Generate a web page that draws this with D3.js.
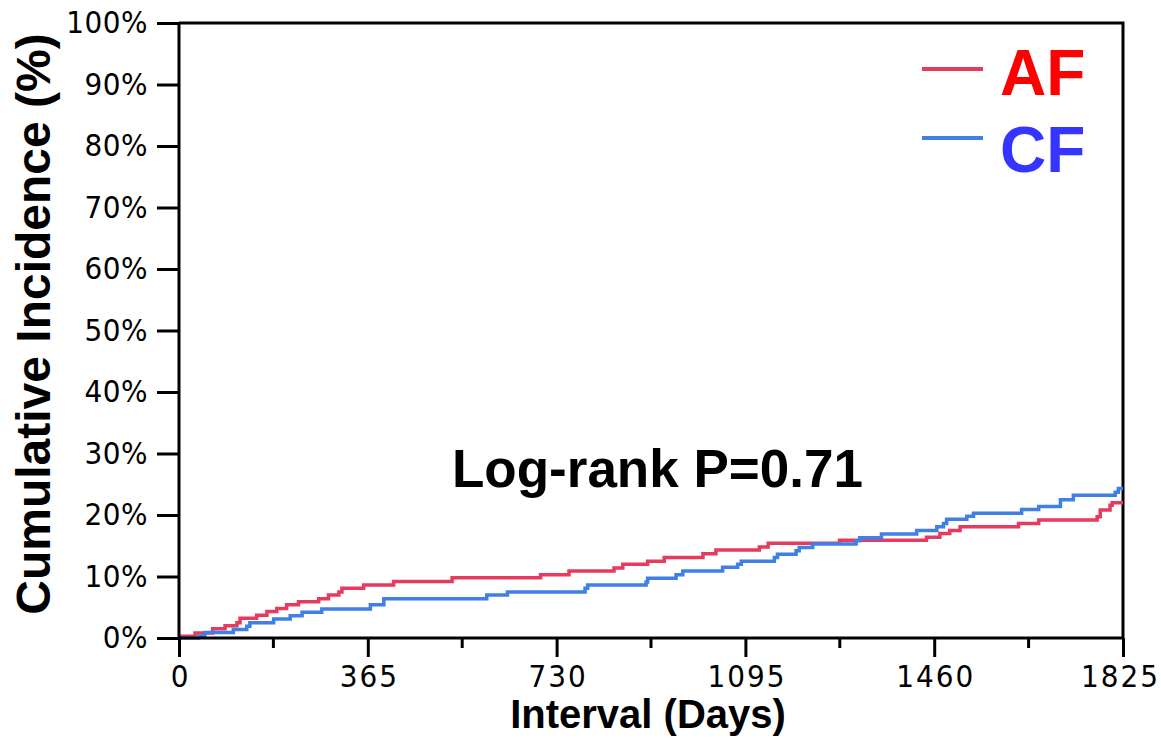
<!DOCTYPE html>
<html>
<head>
<meta charset="utf-8">
<script src="https://cdn.jsdelivr.net/npm/d3@7"></script>
<style>
    body { margin: 0; background: #fff; }
    .tick-label { font-family: "Liberation Sans Narrow", "DejaVu Sans Condensed", sans-serif; font-size: 31px; fill: #000; }
    .title { font-family: "Liberation Sans", Arial, sans-serif; font-weight: bold; fill: #000; }
</style>
</head>
<body>
<div id="chart"></div>
<script>
// step events: [day, cumulative %]
const afDays = [0, 31, 65, 89, 112, 118, 150, 170, 189, 208, 231, 270, 289, 309, 315, 357, 415, 528,
    699, 754, 841, 858, 906, 938, 1013, 1038, 1122, 1139, 1277, 1445, 1471, 1490, 1510, 1623, 1662,
    1775, 1781, 1800, 1804, 1825];
const afPct = [0.3, 0.8, 1.5, 2.0, 2.5, 3.2, 3.7, 4.3, 4.8, 5.4, 5.9, 6.4, 7.0, 7.5, 8.1, 8.6, 9.2, 9.8,
    10.3, 10.9, 11.4, 12.0, 12.5, 13.1, 13.7, 14.3, 14.8, 15.4, 15.9, 16.4, 17.0, 17.5, 18.1, 18.6, 19.2,
    19.7, 20.8, 21.6, 22.0, 22.0];

const cfDays = [0, 37, 50, 105, 131, 137, 183, 215, 238, 276, 370, 396, 595, 635, 785, 790, 903, 906,
    961, 974, 1051, 1080, 1087, 1151, 1157, 1193, 1199, 1225, 1309, 1316, 1358, 1426, 1465, 1478, 1484,
    1523, 1536, 1629, 1662, 1704, 1729, 1810, 1816, 1825];
const cfPct = [0, 0.3, 0.9, 1.4, 1.9, 2.5, 3.1, 3.6, 4.2, 4.7, 5.4, 6.4, 7.0, 7.5, 8.1, 8.6, 9.1, 9.7,
    10.3, 10.9, 11.5, 12.0, 12.5, 13.1, 13.6, 14.2, 14.7, 15.3, 15.8, 16.3, 16.9, 17.5, 18.1, 18.6, 19.3,
    19.8, 20.3, 20.9, 21.4, 22.5, 23.2, 23.7, 24.3, 24.3];

const xTicks = [0, 365, 730, 1095, 1460, 1825];
const xMinorTicks = [182.5, 547.5, 912.5, 1277.5, 1642.5];
const yTicks = [0, 10, 20, 30, 40, 50, 60, 70, 80, 90, 100];

const groups = ['AF', 'CF'];
const lineColors = ['#e63a5e', '#3f7fe6'];
const textColors = ['#ff0000', '#3535ff'];

const width = 1161;
const height = 739;
const margin = { top: 23, right: 38, bottom: 101, left: 179 };
const plotW = width - margin.left - margin.right;
const plotH = height - margin.top - margin.bottom;

const svg = d3.select('#chart')
    .append('svg')
    .attr('width', width)
    .attr('height', height);

const chart = svg.append('g')
    .attr('transform', `translate(${margin.left},${margin.top})`);

const xScale = d3.scaleLinear().domain([0, 1825]).range([0, plotW]);
const yScale = d3.scaleLinear().domain([0, 100]).range([plotH, 0]);

// frame on top and right
chart.append('path')
    .attr('d', `M0,0H${plotW}V${plotH}`)
    .attr('fill', 'none')
    .attr('stroke', '#000')
    .attr('stroke-width', 3);

// curves (CF drawn last, it sits on top where they meet)
const line = d3.line()
    .x(d => xScale(d[0]))
    .y(d => yScale(d[1]))
    .curve(d3.curveStepAfter);

const series = [d3.zip(afDays, afPct), d3.zip(cfDays, cfPct)];
series.forEach((s, i) => {
    chart.append('path')
        .datum(s)
        .attr('d', line)
        .attr('fill', 'none')
        .attr('stroke', lineColors[i])
        .attr('stroke-width', 3.5);
});

// x axis
const xAxis = d3.axisBottom(xScale)
    .tickValues(xTicks)
    .tickSize(19)
    .tickPadding(8)
    .tickFormat(d3.format('d'));

const gx = chart.append('g')
    .attr('transform', `translate(0,${plotH})`)
    .call(xAxis);
gx.selectAll('.tick text').attr('class', 'tick-label').attr('font-size', null).attr('font-family', null)
    .style('letter-spacing', '2px')
    .attr('dx', d => d === 1825 ? -3 : 1);

gx.selectAll('.minor')
    .data(xMinorTicks)
    .enter()
    .append('line')
    .attr('x1', d => xScale(d))
    .attr('x2', d => xScale(d))
    .attr('y1', 0)
    .attr('y2', 10)
    .attr('stroke', '#000')
    .attr('stroke-width', 3);

// y axis
const yAxis = d3.axisLeft(yScale)
    .tickValues(yTicks)
    .tickSize(22)
    .tickPadding(9)
    .tickFormat(d => d + '%');

const gy = chart.append('g').call(yAxis);
gy.selectAll('.tick text').attr('class', 'tick-label').attr('font-size', null).attr('font-family', null)
    .style('letter-spacing', '0.5px');

[gx, gy].forEach(g => {
    g.select('.domain').attr('stroke-width', 3).attr('stroke', '#000');
    g.selectAll('.tick line').attr('stroke-width', 3).attr('stroke', '#000');
});
gx.select('.domain').attr('d', `M0,0H${plotW}`);
gy.select('.domain').attr('d', `M0,${plotH}V0`);

// titles
svg.append('text')
    .attr('class', 'title')
    .attr('x', 648)
    .attr('y', 728)
    .attr('text-anchor', 'middle')
    .style('font-size', '40px')
    .text('Interval (Days)');

svg.append('text')
    .attr('class', 'title')
    .attr('transform', 'translate(50,324) rotate(-90)')
    .attr('text-anchor', 'middle')
    .style('font-size', '48px')
    .text('Cumulative Incidence (%)');

svg.append('text')
    .attr('class', 'title')
    .attr('x', 452)
    .attr('y', 487)
    .style('font-size', '53px')
    .text('Log-rank P=0.71');

// legend
const legend = svg.append('g');
groups.forEach((g, i) => {
    const cy = [69, 138][i];
    legend.append('line')
        .attr('x1', 922).attr('x2', 983)
        .attr('y1', cy).attr('y2', cy)
        .attr('stroke', lineColors[i])
        .attr('stroke-width', 4);
    legend.append('text')
        .attr('class', 'title')
        .attr('x', 1000)
        .attr('y', [95, 172][i])
        .style('font-size', '64px')
        .style('fill', textColors[i])
        .text(g);
});
</script>
</body>
</html>
